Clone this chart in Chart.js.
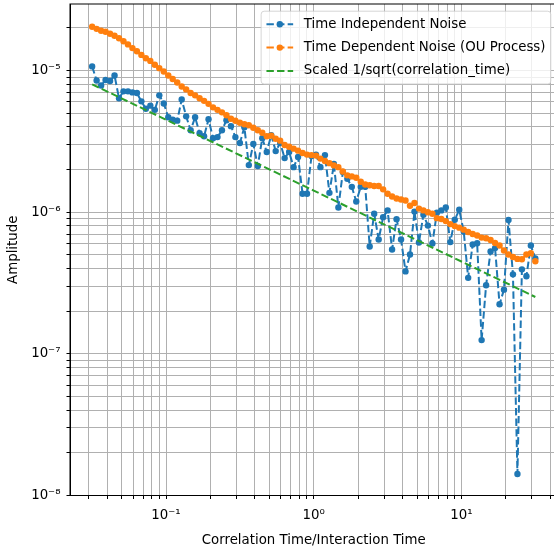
<!DOCTYPE html>
<html>
<head>
<meta charset="utf-8">
<script src="https://cdn.jsdelivr.net/npm/chart.js@4.4.1/dist/chart.umd.min.js"></script>
<style>
    html, body { margin: 0; padding: 0; background: #fff; overflow: hidden; }
    #wrap { width: 554px; height: 554px; overflow: hidden; }
</style>
</head>
<body>
<div id="wrap"><canvas id="chart" width="562" height="554"></canvas></div>
<script>
/* =============================
   DATA
============================= */

const corrTimes = [
    0.03162, 0.03391, 0.03636, 0.03899, 0.04181, 0.04483, 0.04807, 0.05154, 0.05527, 0.05926,
    0.06354, 0.06813, 0.07305, 0.07833, 0.08399, 0.09006, 0.09657, 0.1036, 0.1110, 0.1191,
    0.1277, 0.1369, 0.1468, 0.1574, 0.1688, 0.1810, 0.1940, 0.2081, 0.2231, 0.2392,
    0.2565, 0.2751, 0.2949, 0.3162, 0.3391, 0.3636, 0.3899, 0.4181, 0.4483, 0.4807,
    0.5154, 0.5527, 0.5926, 0.6354, 0.6813, 0.7305, 0.7833, 0.8399, 0.9006, 0.9657,
    1.036, 1.110, 1.191, 1.277, 1.369, 1.468, 1.574, 1.688, 1.810, 1.940,
    2.081, 2.231, 2.392, 2.565, 2.751, 2.949, 3.162, 3.391, 3.636, 3.899,
    4.181, 4.483, 4.807, 5.154, 5.527, 5.926, 6.354, 6.813, 7.305, 7.833,
    8.399, 9.006, 9.657, 10.36, 11.10, 11.91, 12.77, 13.69, 14.68, 15.74,
    16.88, 18.10, 19.40, 20.81, 22.31, 23.92, 25.65, 27.51, 29.49, 31.62
];

const independentNoise = [
    1.07e-5, 8.51e-6, 7.85e-6, 8.57e-6, 8.44e-6, 9.22e-6, 6.37e-6, 7.13e-6, 7.13e-6, 7.01e-6,
    6.95e-6, 6.06e-6, 5.37e-6, 5.65e-6, 5.28e-6, 6.68e-6, 5.86e-6, 4.68e-6, 4.50e-6, 4.43e-6,
    6.25e-6, 4.75e-6, 3.79e-6, 4.68e-6, 3.61e-6, 3.44e-6, 4.53e-6, 3.33e-6, 3.39e-6, 3.79e-6,
    4.46e-6, 4.05e-6, 3.39e-6, 3.08e-6, 3.98e-6, 2.15e-6, 3.03e-6, 2.12e-6, 3.33e-6, 2.66e-6,
    3.50e-6, 2.70e-6, 3.08e-6, 2.41e-6, 2.66e-6, 2.08e-6, 2.45e-6, 1.35e-6, 1.35e-6, 2.49e-6,
    2.55e-6, 2.08e-6, 2.53e-6, 1.37e-6, 2.19e-6, 1.08e-6, 1.92e-6, 1.72e-6, 1.51e-6, 1.19e-6,
    1.51e-6, 1.51e-6, 5.73e-7, 9.76e-7, 6.41e-7, 9.23e-7, 1.03e-6, 5.46e-7, 8.93e-7, 6.41e-7,
    3.82e-7, 5.03e-7, 1.01e-6, 6.11e-7, 9.60e-7, 8.04e-7, 6.01e-7, 9.91e-7, 1.03e-6, 1.08e-6,
    6.15e-7, 8.85e-7, 1.04e-6, 7.30e-7, 3.44e-7, 5.91e-7, 6.04e-7, 1.25e-7, 3.05e-7, 5.28e-7,
    5.58e-7, 2.24e-7, 2.84e-7, 8.81e-7, 3.64e-7, 1.42e-8, 3.95e-7, 3.53e-7, 5.82e-7, 4.72e-7
];

const dependentNoise = [
    2.04e-5, 1.97e-5, 1.91e-5, 1.88e-5, 1.82e-5, 1.76e-5, 1.69e-5, 1.61e-5, 1.53e-5, 1.44e-5,
    1.37e-5, 1.29e-5, 1.22e-5, 1.17e-5, 1.10e-5, 1.04e-5, 9.84e-6, 9.22e-6, 8.71e-6, 8.24e-6,
    7.72e-6, 7.36e-6, 6.95e-6, 6.68e-6, 6.37e-6, 6.11e-6, 5.82e-6, 5.50e-6, 5.28e-6, 5.07e-6,
    4.83e-6, 4.57e-6, 4.42e-6, 4.28e-6, 4.18e-6, 4.11e-6, 3.95e-6, 3.79e-6, 3.64e-6, 3.44e-6,
    3.47e-6, 3.30e-6, 3.20e-6, 2.98e-6, 2.90e-6, 2.81e-6, 2.72e-6, 2.62e-6, 2.55e-6, 2.53e-6,
    2.51e-6, 2.39e-6, 2.30e-6, 2.22e-6, 2.14e-6, 2.08e-6, 1.94e-6, 1.82e-6, 1.79e-6, 1.75e-6,
    1.64e-6, 1.57e-6, 1.55e-6, 1.53e-6, 1.53e-6, 1.45e-6, 1.35e-6, 1.29e-6, 1.25e-6, 1.23e-6,
    1.21e-6, 1.11e-6, 1.16e-6, 1.06e-6, 1.03e-6, 1.00e-6, 9.75e-7, 9.08e-7, 8.95e-7, 8.65e-7,
    8.24e-7, 7.98e-7, 7.78e-7, 7.53e-7, 7.24e-7, 7.01e-7, 6.84e-7, 6.62e-7, 6.55e-7, 6.37e-7,
    6.06e-7, 5.82e-7, 5.37e-7, 5.03e-7, 4.83e-7, 4.68e-7, 4.65e-7, 5.03e-7, 5.14e-7, 4.50e-7
];

/* scaled 1/sqrt reference line, read at its ends and middle */
const fitTimes = [0.03162, 1, 31.62];
const fitValues = [8.0e-6, 1.42e-6, 2.52e-7];

const xMajorTicks = [0.1, 1, 10];
const xMajorLabels = ["10⁻¹", "10⁰", "10¹"];
const yMajorTicks = [1e-8, 1e-7, 1e-6, 1e-5];
const yMajorLabels = ["10⁻⁸", "10⁻⁷", "10⁻⁶", "10⁻⁵"];

/* =============================
   HELPERS
============================= */

const FONT = '"DejaVu Sans", sans-serif';
const FONT_SIZE = 13.33;

Chart.defaults.font.family = FONT;
Chart.defaults.font.size = FONT_SIZE;
Chart.defaults.color = "#000";

function toPoints(xs, ys) {
    return xs.map((x, i) => ({ x: x, y: ys[i] }));
}

// major + minor ticks (1..9 x 10^n) like matplotlib's log locator
function logTicks(scale) {
    const ticks = [];
    const lo = Math.floor(Math.log10(scale.min));
    const hi = Math.ceil(Math.log10(scale.max));
    for (let e = lo; e <= hi; e++) {
        for (let m = 1; m <= 9; m++) {
            const v = m * Math.pow(10, e);
            if (v >= scale.min && v <= scale.max) ticks.push({ value: v });
        }
    }
    scale.ticks = ticks;
}

function majorLabel(value, majors, labels) {
    const idx = majors.findIndex(m => Math.abs(value - m) / m < 1e-6);
    return idx >= 0 ? labels[idx] : "";
}

/* =============================
   PLUGINS
============================= */

const frame = {
    id: "frame",
    afterDatasetsDraw(chart) {
        const { ctx, chartArea: a } = chart;
        ctx.save();
        ctx.strokeStyle = "#000";
        ctx.lineWidth = 1;
        ctx.strokeRect(a.left, a.top, a.right - a.left, a.bottom - a.top);
        ctx.restore();
    }
};

const legendBox = {
    id: "legendBox",
    afterDraw(chart) {
        const { ctx, chartArea } = chart;
        const sets = chart.data.datasets;
        ctx.save();
        ctx.font = FONT_SIZE + "px " + FONT;
        const textW = Math.max(...sets.map(d => ctx.measureText(d.label).width));
        const pad = 5.3, handleLen = 26.7, gap = 10.7, rowH = 23.4, firstRow = 13;
        const w = pad + handleLen + gap + textW + pad;
        const h = firstRow * 2 + rowH * (sets.length - 1);
        const right = chartArea.right - 6.7;
        const top = chartArea.top + 7.2;
        const left = right - w;

        ctx.beginPath();
        ctx.roundRect(left, top, w, h, 3);
        ctx.fillStyle = "rgba(255,255,255,0.8)";
        ctx.fill();
        ctx.strokeStyle = "rgba(204,204,204,0.8)";
        ctx.lineWidth = 1;
        ctx.stroke();

        sets.forEach((d, i) => {
            const y = top + firstRow + i * rowH;
            const x0 = left + pad;
            ctx.strokeStyle = d.borderColor;
            ctx.lineWidth = d.borderWidth;
            ctx.setLineDash(d.borderDash || []);
            ctx.beginPath();
            ctx.moveTo(x0, y);
            ctx.lineTo(x0 + handleLen, y);
            ctx.stroke();
            ctx.setLineDash([]);
            if (d.pointRadius > 0) {
                ctx.fillStyle = d.borderColor;
                ctx.beginPath();
                ctx.arc(x0 + handleLen / 2, y, d.pointRadius, 0, Math.PI * 2);
                ctx.fill();
            }
            ctx.fillStyle = "#000";
            ctx.textBaseline = "middle";
            ctx.textAlign = "left";
            ctx.fillText(d.label, x0 + handleLen + gap, y);
        });
        ctx.restore();
    }
};

/* =============================
   CHART
============================= */

const BLUE = "#1f77b4";
const ORANGE = "#ff7f0e";
const GREEN = "#2ca02c";
const DASH = [7.4, 3.2];
const GRID = "#b0b0b0";

new Chart(document.getElementById("chart"), {
    type: "line",
    data: {
        datasets: [
            {
                label: "Time Independent Noise",
                data: toPoints(corrTimes, independentNoise),
                borderColor: BLUE,
                backgroundColor: BLUE,
                borderWidth: 2,
                borderDash: DASH,
                borderJoinStyle: "round",
                pointRadius: 3.2,
                pointBorderWidth: 0,
                pointBackgroundColor: BLUE,
                tension: 0,
                order: 2
            },
            {
                label: "Time Dependent Noise (OU Process)",
                data: toPoints(corrTimes, dependentNoise),
                borderColor: ORANGE,
                backgroundColor: ORANGE,
                borderWidth: 2,
                borderDash: DASH,
                borderJoinStyle: "round",
                pointRadius: 3.2,
                pointBorderWidth: 0,
                pointBackgroundColor: ORANGE,
                tension: 0,
                order: 1
            },
            {
                label: "Scaled 1/sqrt(correlation_time)",
                data: toPoints(fitTimes, fitValues),
                borderColor: GREEN,
                backgroundColor: GREEN,
                borderWidth: 2,
                borderDash: DASH,
                pointRadius: 0,
                tension: 0,
                order: 0
            }
        ]
    },
    options: {
        responsive: false,
        animation: false,
        events: [],
        layout: { padding: { top: 1, right: 4.5, left: 0, bottom: 0 } },
        plugins: {
            legend: { display: false },
            tooltip: { enabled: false }
        },
        scales: {
            x: {
                type: "logarithmic",
                min: 0.02239,
                max: 44.67,
                afterBuildTicks: logTicks,
                afterFit: s => { s.height = 58.5; s.paddingLeft = 0; s.paddingRight = 0; },
                grid: { color: GRID, lineWidth: 1, tickColor: "#000", tickLength: 3.5 },
                border: { color: "#000", width: 1 },
                ticks: {
                    autoSkip: false,
                    maxRotation: 0,
                    padding: 9,
                    font: { size: FONT_SIZE },
                    callback: v => majorLabel(v, xMajorTicks, xMajorLabels)
                },
                title: {
                    display: true,
                    text: "Correlation Time/Interaction Time",
                    font: { size: FONT_SIZE },
                    padding: { top: 0, bottom: 5 }
                }
            },
            y: {
                type: "logarithmic",
                min: 1e-8,
                max: 2.95e-5,
                afterBuildTicks: logTicks,
                afterFit: s => { s.width = 70; s.paddingTop = 0; s.paddingBottom = 0; },
                grid: { color: GRID, lineWidth: 1, tickColor: "#000", tickLength: 3.5 },
                border: { color: "#000", width: 1 },
                ticks: {
                    autoSkip: false,
                    padding: 6,
                    font: { size: FONT_SIZE },
                    callback: v => majorLabel(v, yMajorTicks, yMajorLabels)
                },
                title: {
                    display: true,
                    text: "Amplitude",
                    font: { size: FONT_SIZE },
                    padding: { top: 6, bottom: 0 }
                }
            }
        }
    },
    plugins: [frame, legendBox]
});
</script>
</body>
</html>
